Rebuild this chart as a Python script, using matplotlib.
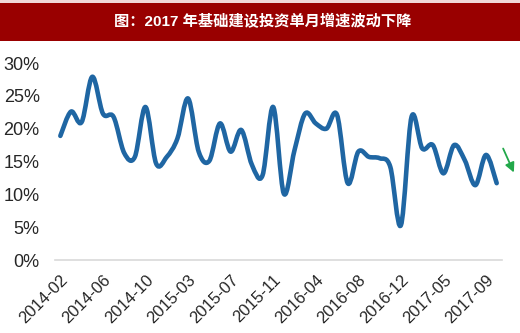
import numpy as np
import matplotlib
matplotlib.use("Agg")
import matplotlib.pyplot as plt
from matplotlib.path import Path
from matplotlib.patches import PathPatch, Rectangle

# monthly growth (%), Jan is merged into Feb so it is skipped
months = ["2014-02", "2014-03", "2014-04", "2014-05", "2014-06", "2014-07",
          "2014-08", "2014-09", "2014-10", "2014-11", "2014-12",
          "2015-02", "2015-03", "2015-04", "2015-05", "2015-06", "2015-07",
          "2015-08", "2015-09", "2015-10", "2015-11", "2015-12",
          "2016-02", "2016-03", "2016-04", "2016-05", "2016-06", "2016-07",
          "2016-08", "2016-09", "2016-10", "2016-11", "2016-12",
          "2017-02", "2017-03", "2017-04", "2017-05", "2017-06", "2017-07",
          "2017-08", "2017-09", "2017-10"]
growth = [18.9, 22.6, 21.0, 27.9, 22.3, 21.8, 16.3, 15.7, 23.3, 14.7, 15.7,
          18.5, 24.6, 16.5, 15.1, 20.8, 16.5, 19.8, 14.5, 12.9, 23.3, 10.1,
          16.7, 22.3, 20.8, 20.0, 22.1, 11.7, 16.5, 15.7, 15.5, 14.2, 5.3,
          21.8, 17.0, 17.5, 13.2, 17.5, 15.2, 11.4, 16.0, 11.7]
tick_every = 4
title = "图：2017 年基础建设投资单月增速波动下降"


def smooth_path(x, y, k=1/6.):
    # catmull-rom style bezier through the points, like a "smoothed line"
    x = np.asarray(x, float)
    y = np.asarray(y, float)
    n = len(x)
    verts = [(x[0], y[0])]
    codes = [Path.MOVETO]
    for i in range(n - 1):
        i0 = max(i - 1, 0)
        i3 = min(i + 2, n - 1)
        c1 = (x[i] + (x[i+1] - x[i0]) * k, y[i] + (y[i+1] - y[i0]) * k)
        c2 = (x[i+1] - (x[i3] - x[i]) * k, y[i+1] - (y[i3] - y[i]) * k)
        verts += [c1, c2, (x[i+1], y[i+1])]
        codes += [Path.CURVE4] * 3
    return Path(verts, codes)


fig = plt.figure(figsize=(5.2, 3.33), dpi=100)
fig.patch.set_facecolor("white")

# title band
fig.add_artist(Rectangle((0, 0.877), 1, 0.114, transform=fig.transFigure,
                         facecolor="#990000", edgecolor="none"))
fig.add_artist(Rectangle((0, 0.991), 1, 0.009, transform=fig.transFigure,
                         facecolor="#f0d8d8", edgecolor="none"))
fig.text(0.505, 0.934, title, color="white", fontsize=11, fontweight="bold",
         ha="center", va="center",
         family=["Liberation Sans", "Noto Sans CJK SC"])

ax = fig.add_axes([0.1058, 0.2192, 0.8596, 0.5916])
xs = np.arange(len(growth))
ax.add_patch(PathPatch(smooth_path(xs, growth), facecolor="none",
                       edgecolor="#1f66a3", lw=3.3, capstyle="round",
                       joinstyle="round"))

ax.set_xlim(-0.5, len(growth) - 0.5)
ax.set_ylim(0, 30)
ax.set_yticks(range(0, 31, 5))
ax.set_yticklabels([f"{v}%" for v in range(0, 31, 5)])
ax.set_xticks(xs[::tick_every])
ax.set_xticklabels(months[::tick_every], rotation=45, ha="right",
                   va="top", rotation_mode="anchor")

for s in ["top", "right", "left"]:
    ax.spines[s].set_visible(False)
ax.spines["bottom"].set_color("#d9d9d9")
ax.spines["bottom"].set_linewidth(1.2)
ax.tick_params(axis="both", length=0, labelcolor="#262626")
ax.tick_params(axis="y", pad=11, labelsize=13)
ax.tick_params(axis="x", pad=9, labelsize=12)
for lab in ax.get_xticklabels() + ax.get_yticklabels():
    lab.set_family("Liberation Sans")

# green trend arrow at the right end
ax.annotate("", xy=(515, 158), xytext=(502, 187),
            xycoords="figure pixels", textcoords="figure pixels",
            arrowprops=dict(arrowstyle="-|>", color="#22a84a", lw=1.3,
                            mutation_scale=14), annotation_clip=False)

fig.savefig("out.png", dpi=100)
